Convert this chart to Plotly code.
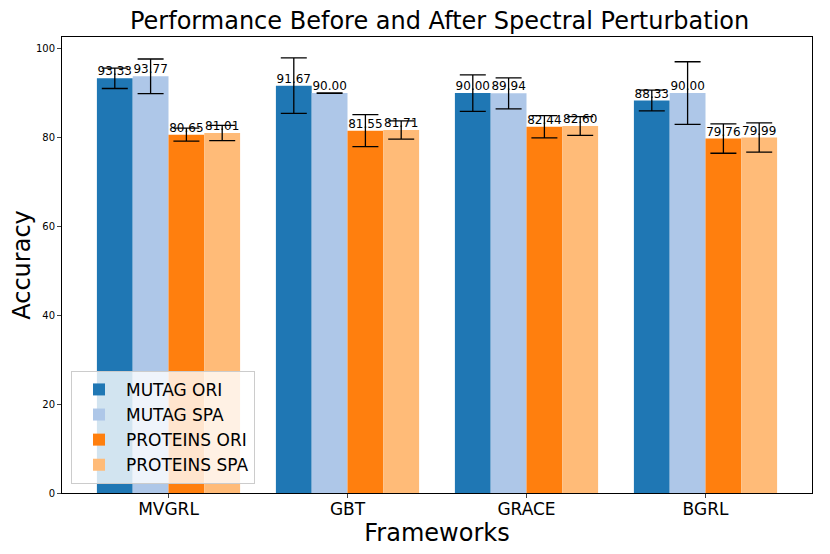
import plotly.graph_objects as go

frameworks = ["MVGRL", "GBT", "GRACE", "BGRL"]
series_names = ["MUTAG ORI", "MUTAG SPA", "PROTEINS ORI", "PROTEINS SPA"]
mutag_ori = [93.33, 91.67, 90.00, 88.33]
mutag_spa = [93.77, 90.00, 89.94, 90.00]
proteins_ori = [80.65, 81.55, 82.44, 79.76]
proteins_spa = [81.01, 81.71, 82.60, 79.99]
mutag_ori_err = [2.3, 6.25, 4.1, 2.35]
mutag_spa_err = [3.9, 0.05, 3.5, 7.05]
proteins_ori_err = [1.45, 3.6, 2.5, 3.3]
proteins_spa_err = [1.7, 2.05, 2.1, 3.3]

colors = ["#1f77b4", "#aec7e8", "#ff7f0e", "#ffbb78"]
values = [mutag_ori, mutag_spa, proteins_ori, proteins_spa]
errors = [mutag_ori_err, mutag_spa_err, proteins_ori_err, proteins_spa_err]

bar_w = 0.2
offsets = [-0.3, -0.1, 0.1, 0.3]
FONT = "DejaVu Sans"

fig = go.Figure()
for name, vals, errs, col, off in zip(series_names, values, errors, colors, offsets):
    xs = [i + off for i in range(len(frameworks))]
    fig.add_trace(go.Bar(
        x=xs, y=vals, width=bar_w, name=name,
        marker=dict(color=col, line=dict(width=0)),
        error_y=dict(type="data", array=errs, visible=True, color="black",
                     thickness=1.3, width=13),
    ))
for vals, off in zip(values, offsets):
    xs = [i + off for i in range(len(frameworks))]
    fig.add_trace(go.Scatter(
        x=xs, y=vals, mode="text", text=[f"{v:.2f}" for v in vals],
        textposition="top center", textfont=dict(family=FONT, size=12, color="black"),
        showlegend=False, hoverinfo="skip", cliponaxis=False,
    ))

top = max(max(v + e for v, e in zip(vs, es)) for vs, es in zip(values, errors)) * 1.048

fig.update_layout(
    width=830, height=554,
    plot_bgcolor="white", paper_bgcolor="white",
    margin=dict(l=54, r=26, t=29, b=69),
    font=dict(family=FONT, color="black"),
    title=dict(text="Performance Before and After Spectral Perturbation",
               x=0.52, xanchor="center", y=0.977, yanchor="middle",
               font=dict(size=24, family=FONT)),
    barmode="overlay",
    showlegend=True,
    legend=dict(x=0.012, y=0.02, xanchor="left", yanchor="bottom",
                bgcolor="rgba(255,255,255,0.8)", bordercolor="#cccccc", borderwidth=1,
                font=dict(size=17, family=FONT), itemwidth=44, tracegroupgap=0),
)
fig.update_xaxes(
    range=[-0.595, 3.595], tickmode="array", tickvals=list(range(len(frameworks))),
    ticktext=frameworks, tickfont=dict(size=17), ticks="outside", ticklen=4,
    ticklabelstandoff=-3,
    showline=True, linecolor="black", linewidth=1, mirror=True, showgrid=False,
    zeroline=False, automargin=False,
    title=dict(text="Frameworks", font=dict(size=24), standoff=0),
)
fig.update_yaxes(
    range=[0, top], tickvals=[0, 20, 40, 60, 80, 100], tickfont=dict(size=10),
    ticks="outside", ticklen=4, showline=True, linecolor="black", linewidth=1,
    mirror=True, showgrid=False, zeroline=False, automargin=False,
    title=dict(text="Accuracy", font=dict(size=24), standoff=0),
)

fig.write_html("out.html")
